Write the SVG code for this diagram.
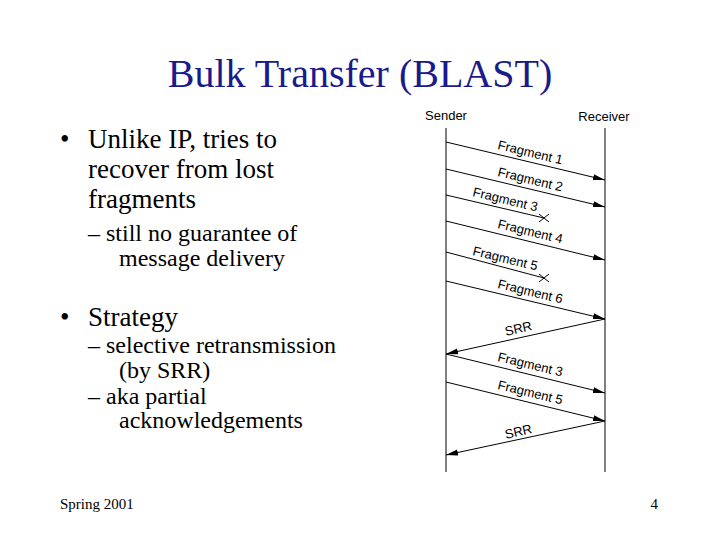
<svg xmlns="http://www.w3.org/2000/svg" width="720" height="540" viewBox="0 0 720 540">
<style>
.t{font-family:"Liberation Serif","Times New Roman",serif;fill:#000}
.s{font-family:"Liberation Sans",Arial,sans-serif;font-size:13px;fill:#000}
.m{stroke:#000;stroke-width:1;fill:none}
</style>
<defs><marker id="a" markerWidth="12" markerHeight="8" refX="12" refY="4" orient="auto" markerUnits="userSpaceOnUse"><path d="M0,1 L12,4 L0,7 Z" fill="#000"/></marker></defs>
<rect width="720" height="540" fill="#fff"/>
<text class="t" x="360" y="87" font-size="40" style="fill:#1a1a8c" text-anchor="middle">Bulk Transfer (BLAST)</text>
<g id="text">
<text class="t" x="60" y="148" font-size="27">•</text>
<text class="t" x="88" y="148" font-size="27">Unlike IP, tries to</text>
<text class="t" x="88" y="178" font-size="27">recover from lost</text>
<text class="t" x="88" y="208" font-size="27">fragments</text>
<text class="t" x="88" y="241" font-size="24">– still no guarantee of</text>
<text class="t" x="119" y="266" font-size="24">message delivery</text>
<text class="t" x="60" y="326" font-size="27">•</text>
<text class="t" x="88" y="326" font-size="27">Strategy</text>
<text class="t" x="88" y="353" font-size="24">– selective retransmission</text>
<text class="t" x="119" y="378" font-size="24">(by SRR)</text>
<text class="t" x="88" y="404" font-size="24">– aka partial</text>
<text class="t" x="119" y="428" font-size="24">acknowledgements</text>
<text class="t" x="60" y="509" font-size="15">Spring 2001</text>
<text class="t" x="658" y="509" font-size="15" text-anchor="end">4</text>
</g>
<g id="sender"><text class="s" x="446" y="120" text-anchor="middle">Sender</text><line class="m" x1="446" y1="128" x2="446" y2="472"/></g>
<g id="receiver"><text class="s" x="604" y="121" text-anchor="middle">Receiver</text><line class="m" x1="605" y1="128" x2="605" y2="472"/></g>
<g id="connectors" class="m">
<line x1="446" y1="142" x2="605" y2="180" marker-end="url(#a)"/>
<line x1="446" y1="169" x2="605" y2="207" marker-end="url(#a)"/>
<line x1="446" y1="195" x2="544" y2="218"/>
<path d="M539,214 L549,222 M539,222 L549,214"/>
<line x1="446" y1="221" x2="605" y2="260" marker-end="url(#a)"/>
<line x1="446" y1="252" x2="544" y2="278"/>
<path d="M539,274 L549,282 M539,282 L549,274"/>
<line x1="446" y1="281" x2="605" y2="319" marker-end="url(#a)"/>
<line x1="605" y1="319" x2="446" y2="354" marker-end="url(#a)"/>
<line x1="446" y1="354" x2="605" y2="393" marker-end="url(#a)"/>
<line x1="446" y1="382" x2="605" y2="421" marker-end="url(#a)"/>
<line x1="605" y1="421" x2="446" y2="455" marker-end="url(#a)"/>
</g>
<g id="labels">
<text class="s" transform="translate(497,149) rotate(13.5)">Fragment 1</text>
<text class="s" transform="translate(497,176) rotate(13.5)">Fragment 2</text>
<text class="s" transform="translate(472,196) rotate(13.5)">Fragment 3</text>
<text class="s" transform="translate(497,228) rotate(13.5)">Fragment 4</text>
<text class="s" transform="translate(472,255) rotate(13.5)">Fragment 5</text>
<text class="s" transform="translate(497,288) rotate(13.5)">Fragment 6</text>
<text class="s" transform="translate(506,336) rotate(-13)">SRR</text>
<text class="s" transform="translate(497,361) rotate(13.5)">Fragment 3</text>
<text class="s" transform="translate(497,389) rotate(13.5)">Fragment 5</text>
<text class="s" transform="translate(506,439) rotate(-13)">SRR</text>
</g>
</svg>
